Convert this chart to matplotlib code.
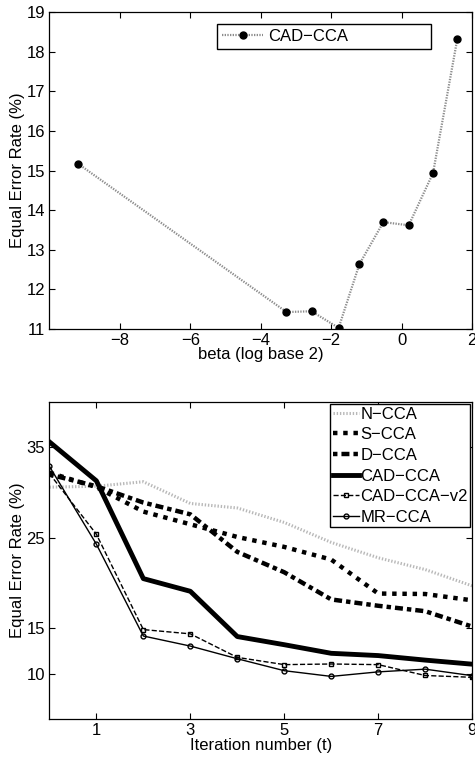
import matplotlib
matplotlib.use("Agg")
import matplotlib.pyplot as plt

plt.rcParams['font.family'] = ['Liberation Sans', 'DejaVu Sans']

# top panel: EER vs beta
beta = [-9.18, -3.27, -2.56, -1.79, -1.2, -0.52, 0.2, 0.89, 1.58]
eer_beta = [15.17, 11.43, 11.45, 11.03, 12.64, 13.70, 13.62, 14.94, 18.33]

# bottom panel: EER vs iteration
iters = [0, 1, 2, 3, 4, 5, 6, 7, 8, 9]
n_cca = [30.6, 30.7, 31.2, 28.8, 28.3, 26.7, 24.5, 22.8, 21.5, 19.7]
s_cca = [32.2, 30.6, 27.9, 26.5, 25.1, 24.0, 22.6, 18.85, 18.8, 18.1]
d_cca = [32.0, 30.7, 28.9, 27.6, 23.45, 21.2, 18.2, 17.5, 16.9, 15.2]
cad_cca = [35.6, 31.3, 20.5, 19.1, 14.1, 13.2, 12.25, 12.0, 11.5, 11.05]
cad_cca_v2 = [32.1, 25.4, 14.87, 14.4, 11.8, 11.0, 11.07, 11.0, 9.8, 9.6]
mr_cca = [32.9, 24.3, 14.16, 13.05, 11.65, 10.33, 9.7, 10.2, 10.5, 9.78]

fs = 12
fig = plt.figure(figsize=(4.75, 7.6), dpi=100)

ax1 = fig.add_axes([0.104, 0.567, 0.89, 0.417])
ax1.plot(beta, eer_beta, color='0.55', lw=1.6, dashes=(0.6, 0.6), marker='o',
         ms=5, mfc='black', mec='black', label='CAD\u2212CCA')
ax1.set_xlim(-10, 2)
ax1.set_ylim(11, 19)
ax1.set_xticks([-8, -6, -4, -2, 0, 2])
ax1.set_xticklabels(['\u22128', '\u22126', '\u22124', '\u22122', '0', '2'])
ax1.set_yticks(range(11, 20))
ax1.set_xlabel('beta (log base 2)', fontsize=fs, labelpad=-1)
ax1.set_ylabel('Equal Error Rate (%)', fontsize=fs, labelpad=1)
ax1.legend(loc='upper left', bbox_to_anchor=(0.396, 0.879, 0.507, 0.085),
           mode='expand', fontsize=fs, fancybox=False, edgecolor='black',
           framealpha=1, handlelength=2.5, borderpad=0.3, handletextpad=0.3,
           borderaxespad=0)

ax2 = fig.add_axes([0.104, 0.054, 0.89, 0.417])
ax2.plot(iters, n_cca, color='0.72', lw=2.2, dashes=(0.45, 0.6),
         label='N\u2212CCA')
ax2.plot(iters, s_cca, color='black', lw=3.2, dashes=(1, 1.3),
         label='S\u2212CCA')
ax2.plot(iters, d_cca, color='black', lw=3.2, dashes=(1, 0.9, 1.8, 0.9),
         label='D\u2212CCA')
ax2.plot(iters, cad_cca, '-', color='black', lw=3.5, label='CAD\u2212CCA')
ax2.plot(iters, cad_cca_v2, '--', color='black', lw=1, marker='s', ms=3.5,
         mfc='none', label='CAD\u2212CCA\u2212v2')
ax2.plot(iters, mr_cca, '-', color='black', lw=1, marker='o', ms=3.5,
         mfc='none', label='MR\u2212CCA')
ax2.set_xlim(0, 9)
ax2.set_ylim(5, 40)
ax2.set_xticks([1, 3, 5, 7, 9])
ax2.set_yticks([10, 15, 25, 35])
ax2.set_xlabel('Iteration number (t)', fontsize=fs, labelpad=0)
ax2.set_ylabel('Equal Error Rate (%)', fontsize=fs, labelpad=1)
ax2.legend(loc='upper right', bbox_to_anchor=(1.0, 1.0), fontsize=fs,
           fancybox=False, edgecolor='black', framealpha=1,
           handlelength=1.6, borderpad=0.15, handletextpad=0.05,
           labelspacing=0.34, borderaxespad=0.12)

for ax in (ax1, ax2):
    ax.tick_params(direction='in', top=True, right=True, labelsize=fs,
                   length=4, pad=3)
    for s in ax.spines.values():
        s.set_linewidth(0.9)

fig.savefig('out.png', dpi=100)
